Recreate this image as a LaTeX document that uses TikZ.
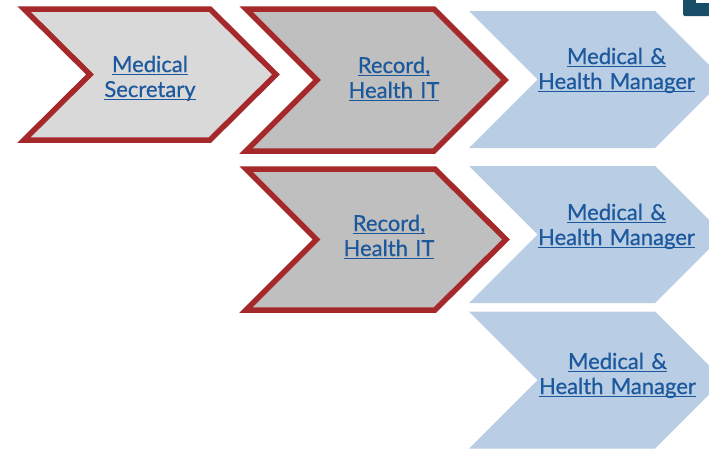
\documentclass[tikz,border=0pt]{standalone}
\usepackage{fontspec}
\setmainfont{Lato}
\newfontfamily\linkfont{Lato}[FakeBold=0.6]
\usepackage{tikz}
\usetikzlibrary{positioning}

\definecolor{chevred}{RGB}{165,40,42}
\definecolor{chevgrayA}{RGB}{217,217,217}
\definecolor{chevgrayB}{RGB}{191,191,191}
\definecolor{chevblue}{RGB}{185,205,229}
\definecolor{linkblue}{RGB}{28,88,156}
\definecolor{darkteal}{RGB}{24,78,104}

\newcommand{\weblink}[1]{\leavevmode\setbox0=\hbox{#1}\rlap{\rule[-3.4pt]{\wd0}{1.5pt}}\box0}

\begin{document}
\begin{tikzpicture}[x=1pt, y=-1pt,
        redchev/.style={draw=chevred, line width=5.5pt, line join=miter},
        bluechev/.style={fill=chevblue},
        link/.style={anchor=base, text width=220pt, align=center, inner sep=0pt, text=linkblue, font=\linkfont\fontsize{22}{25}\selectfont}]
        \useasboundingbox (0,0) rectangle (709,448);
        \clip (0,0) rectangle (709,448);

        % corner of the next slide element
        \fill[darkteal, rounded corners=2pt] (683,-5) -- (683,16) -- (715,16) -- (715,-5) -- cycle;
        \fill[white] (696,-1) rectangle (710,2.5);

        % first step
        \draw[redchev, fill=chevgrayA] (24,9) -- (210,9) -- (276,74.5) -- (210,140) -- (24,140) -- (90,74.5) -- cycle;

        % second step
        \draw[redchev, fill=chevgrayB] (246,9) -- (434,9) -- (505,80) -- (434,151) -- (246,151) -- (317,80) -- cycle;
        \draw[redchev, fill=chevgrayB] (246,169) -- (435,169) -- (506,239.5) -- (435,310) -- (246,310) -- (316.5,239.5) -- cycle;

        % third step
        \fill[bluechev] (469,11) -- (655,11) -- (723.5,79.5) -- (655,148) -- (469,148) -- (537.5,79.5) -- cycle;
        \fill[bluechev] (469,166) -- (655,166) -- (723.5,234.5) -- (655,303) -- (469,303) -- (537.5,234.5) -- cycle;
        \fill[bluechev] (469,311.5) -- (655,311.5) -- (723.5,380) -- (655,448.5) -- (469,448.5) -- (537.5,380) -- cycle;

        % labels
        \node (sec) at (150,72) [link] {\weblink{Medical}\\\weblink{Secretary}};
        \node (rec1) at (394,73) [link] {\weblink{Record,}\\\weblink{Health IT}};
        \node (rec2) at (389,231) [link] {\weblink{Record,}\\\weblink{Health IT}};
        \node (mgr1) at (616.5,64) [link] {\weblink{Medical \&}\\\weblink{Health Manager}};
        \node (mgr2) at (616.5,220) [link] {\weblink{Medical \&}\\\weblink{Health Manager}};
        \node (mgr3) at (617.5,369) [link] {\weblink{Medical \&}\\\weblink{Health Manager}};
\end{tikzpicture}
\end{document}
